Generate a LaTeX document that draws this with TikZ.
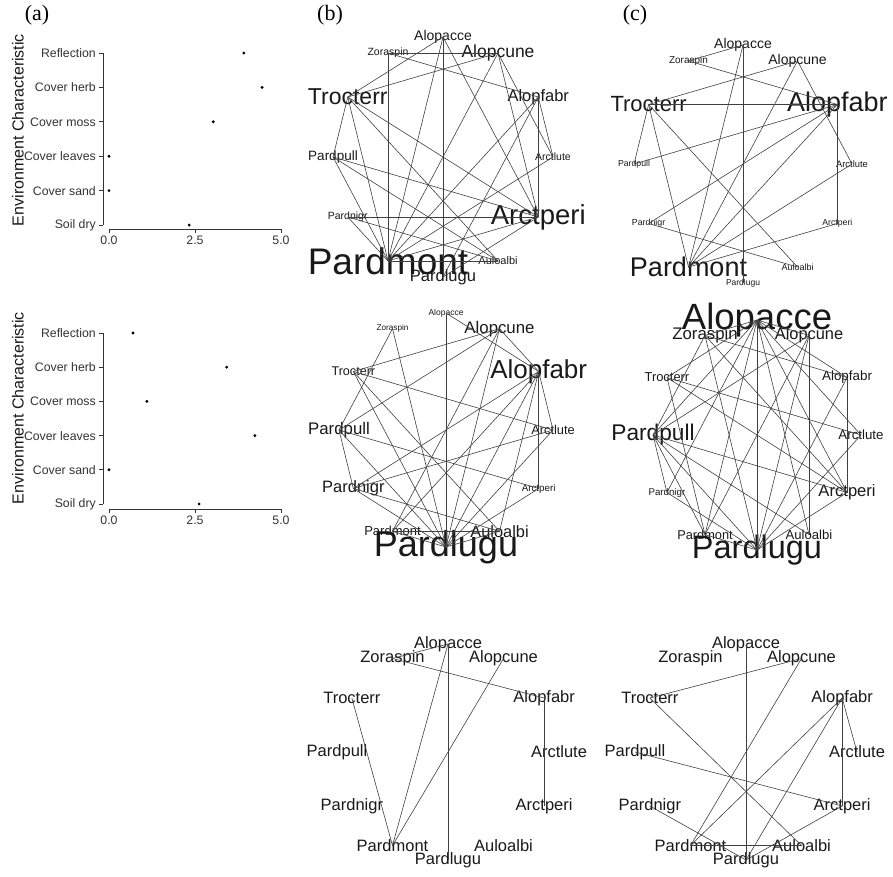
\documentclass[tikz,border=0pt]{standalone}
\usepackage{fontspec}
\setmainfont{Liberation Serif}
\setsansfont{Liberation Sans}
\usetikzlibrary{positioning}

\tikzset{
  spname/.style={inner sep=0pt, text=black!90},
  edge/.style={draw=black!75, line width=0.6pt},
  axis/.style={draw=black!80, line width=0.7pt},
  ticklab/.style={inner sep=0pt, text=black!80, font=\sffamily\fontsize{12.3}{12.3}\selectfont},
  axtitle/.style={inner sep=0pt, rotate=90, text=black!90, font=\sffamily\fontsize{16}{16}\selectfont},
  panel/.style={inner sep=0pt, font=\fontsize{22}{22}\selectfont},
  dot/.style={fill=black},
}

% species in clockwise order, angle on the circle
\def\species{ac/Alopacce/90, cu/Alopcune/60, fa/Alopfabr/30, lu/Arctlute/0,
  pe/Arctperi/-30, au/Auloalbi/-60, lg/Pardlugu/-90, mo/Pardmont/-120,
  ni/Pardnigr/-150, pu/Pardpull/180, tr/Trocterr/150, zo/Zoraspin/120}

% #1 prefix, #2 cx, #3 cy, #4 rx, #5 ry, #6 label sizes
\newcommand{\netpanel}[6]{%
  \foreach \nm/\lab/\ang [count=\k] in \species {
    \pgfmathsetmacro\fs{{#6}[\k-1]}
    \node[spname, font=\sffamily\fontsize{\fs}{\fs}\selectfont]
      (#1\nm) at ({#2+#4*cos(\ang)},{#3-#5*sin(\ang)}) {\lab};
  }%
}

\begin{document}
\begin{tikzpicture}[x=1pt, y=-1pt]
  \useasboundingbox (0,0) rectangle (893,876);

  % panel letters
  \node[panel] (la) at (37,15) {(a)};
  \node[panel] (lb) at (330,15) {(b)};
  \node[panel] (lc) at (635,15) {(c)};

  % dot plot, top
  \node[axtitle] (yt1) at (18,130) {Environment Characteristic};
  \draw[axis] (103,53) -- (103,225);
  \foreach \lab [count=\k from 0] in {Reflection, Cover herb, Cover moss, Cover leaves, Cover sand, Soil dry} {
    \draw[axis] ({99},{53+34.4*\k}) -- ({103},{53+34.4*\k});
    \node[ticklab, anchor=east] (ya\k) at ({96},{53+34.4*\k}) {\lab};
  }
  \draw[axis] (109,229) -- (281,229);
  \foreach \v [count=\k from 0] in {0.0, 2.5, 5.0} {
    \draw[axis] ({109+86*\k},229) -- ({109+86*\k},233);
    \node[ticklab] (xa\k) at ({109+86*\k},240) {\v};
  }
  \foreach \v [count=\k from 0] in {3.92, 4.45, 3.03, 0, 0, 2.33}
    \fill[dot] ({109+34.4*\v},{53+34.4*\k}) circle (1.6);

  % dot plot, middle
  \node[axtitle] (yt2) at (18,408) {Environment Characteristic};
  \draw[axis] (103,333) -- (103,504);
  \foreach \lab [count=\k from 0] in {Reflection, Cover herb, Cover moss, Cover leaves, Cover sand, Soil dry} {
    \draw[axis] ({99},{333+34.2*\k}) -- ({103},{333+34.2*\k});
    \node[ticklab, anchor=east] (yb\k) at ({96},{333+34.2*\k}) {\lab};
  }
  \draw[axis] (109,509) -- (281,509);
  \foreach \v [count=\k from 0] in {0.0, 2.5, 5.0} {
    \draw[axis] ({109+86*\k},509) -- ({109+86*\k},513);
    \node[ticklab] (xb\k) at ({109+86*\k},520) {\v};
  }
  \foreach \v [count=\k from 0] in {0.70, 3.42, 1.10, 4.24, 0, 2.62}
    \fill[dot] ({109+34.4*\v},{333+34.2*\k}) circle (1.6);

  % networks
  \netpanel{b1}{443}{157}{110}{120}{14,17.5,16.5,10.5,27.5,11,16.5,37,10.5,13.5,23,10.5}
  \foreach \u/\v in {zo/cu, zo/mo, zo/fa, ac/tr, ac/lg, ac/mo, ac/pe, cu/tr, cu/mo, cu/lu,
    cu/pe, fa/lu, fa/pe, fa/mo, fa/lg, lu/mo, pe/tr, pe/pu, pe/ni, pe/mo, pe/lg, au/mo,
    au/ni, au/tr, tr/pu, tr/mo, pu/mo, pu/au, ni/mo}
    \draw[edge] (b1\u.center) -- (b1\v.center);

  \netpanel{c1}{743}{164}{109}{119}{14,14,27,9.4,8.7,9,8.5,27,8.8,8.7,22,10}
  \foreach \u/\v in {zo/ac, zo/fa, ac/lg, ac/mo, cu/tr, cu/mo, cu/lu, tr/fa, tr/pu, tr/mo,
    tr/au, fa/pu, fa/ni, fa/mo, fa/pe, lu/mo, pe/mo, ni/au}
    \draw[edge] (c1\u.center) -- (c1\v.center);

  \netpanel{b2}{446}{430}{107}{117}{8.5,16.8,26,12.8,9.8,16.4,36,13,16.5,16.8,12.6,8.2}
  \foreach \u/\v in {ac/lg, ac/fa, zo/pu, zo/lg, cu/tr, cu/pu, cu/lg, cu/mo, cu/fa, fa/ni,
    fa/mo, fa/lg, fa/au, fa/lu, fa/pe, lu/tr, lu/ni, lu/lg, pe/pu, pe/lg, tr/lg, tr/au,
    pu/ni, pu/lg, ni/lg, ni/au, mo/lg, mo/au, au/lg}
    \draw[edge] (b2\u.center) -- (b2\v.center);

  \netpanel{c2}{757}{435}{104}{115}{36.5,16.4,13.4,13.3,16.6,13.1,32.5,12.8,9.7,22.7,12.9,16.8}
  \foreach \u/\v in {ac/lg, ac/zo, ac/cu, ac/pu, ac/ni, ac/mo, ac/fa, ac/lu, ac/pe, ac/au,
    ac/tr, cu/au, cu/pu, cu/lg, cu/mo, zo/fa, zo/pe, zo/pu, zo/lg, tr/lu, tr/mo, tr/pe,
    fa/pe, fa/lg, lu/lg, pu/pe, pu/ni, pu/lg, pu/au, pu/mo, ni/lg, pe/lg, mo/lg}
    \draw[edge] (c2\u.center) -- (c2\v.center);

  \netpanel{b3}{448}{752}{111}{108}{16.5,16.5,16.5,16.5,16.5,16.5,16.5,16.5,16.5,16.5,16.5,16.5}
  \foreach \u/\v in {zo/ac, zo/fa, ac/lg, ac/mo, cu/mo, tr/mo, fa/pe}
    \draw[edge] (b3\u.center) -- (b3\v.center);

  \netpanel{c3}{746}{752}{111}{108}{16.5,16.5,16.5,16.5,16.5,16.5,16.5,16.5,16.5,16.5,16.5,16.5}
  \foreach \u/\v in {ac/lg, cu/tr, cu/mo, tr/au, fa/mo, fa/lg, fa/lu, fa/pe, pu/pe, ni/lg,
    mo/au, pe/lg}
    \draw[edge] (c3\u.center) -- (c3\v.center);
\end{tikzpicture}
\end{document}
